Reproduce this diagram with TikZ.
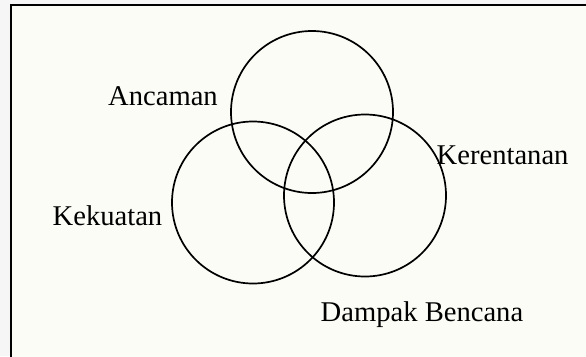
\documentclass[tikz,border=0pt]{standalone}
\usepackage{fontspec}
\setmainfont{Liberation Serif}
\definecolor{paper}{RGB}{252,252,246}
\definecolor{outside}{RGB}{246,246,246}
\begin{document}
\begin{tikzpicture}[x=1pt,y=-1pt,
  ring/.style={draw=black,line width=1.7pt},
  lbl/.style={inner sep=0pt,anchor=base west,font=\fontsize{28.6}{30}\selectfont}]
\useasboundingbox (0,0) rectangle (586,356);
\fill[outside] (0,0) rectangle (586,356);
\fill[paper] (10.8,4.7) rectangle (590,360);
\draw[line width=2.4pt] (10.8,360) -- (10.8,4.7) -- (590,4.7);
\node[ring,circle,minimum size=162pt,inner sep=0pt] (ancaman) at (312,112) {};
\node[ring,circle,minimum size=162pt,inner sep=0pt] (kekuatan) at (253,202.5) {};
\node[ring,circle,minimum size=162pt,inner sep=0pt] (kerentanan) at (365,195.5) {};
\node[lbl] (tA) at (108,105) {Ancaman};
\node[lbl] (tK) at (52.5,225) {Kekuatan};
\node[lbl] (tR) at (436.5,164.3) {Kerentanan};
\node[lbl] (tD) at (320.5,321.7) {Dampak Bencana};
\end{tikzpicture}
\end{document}
